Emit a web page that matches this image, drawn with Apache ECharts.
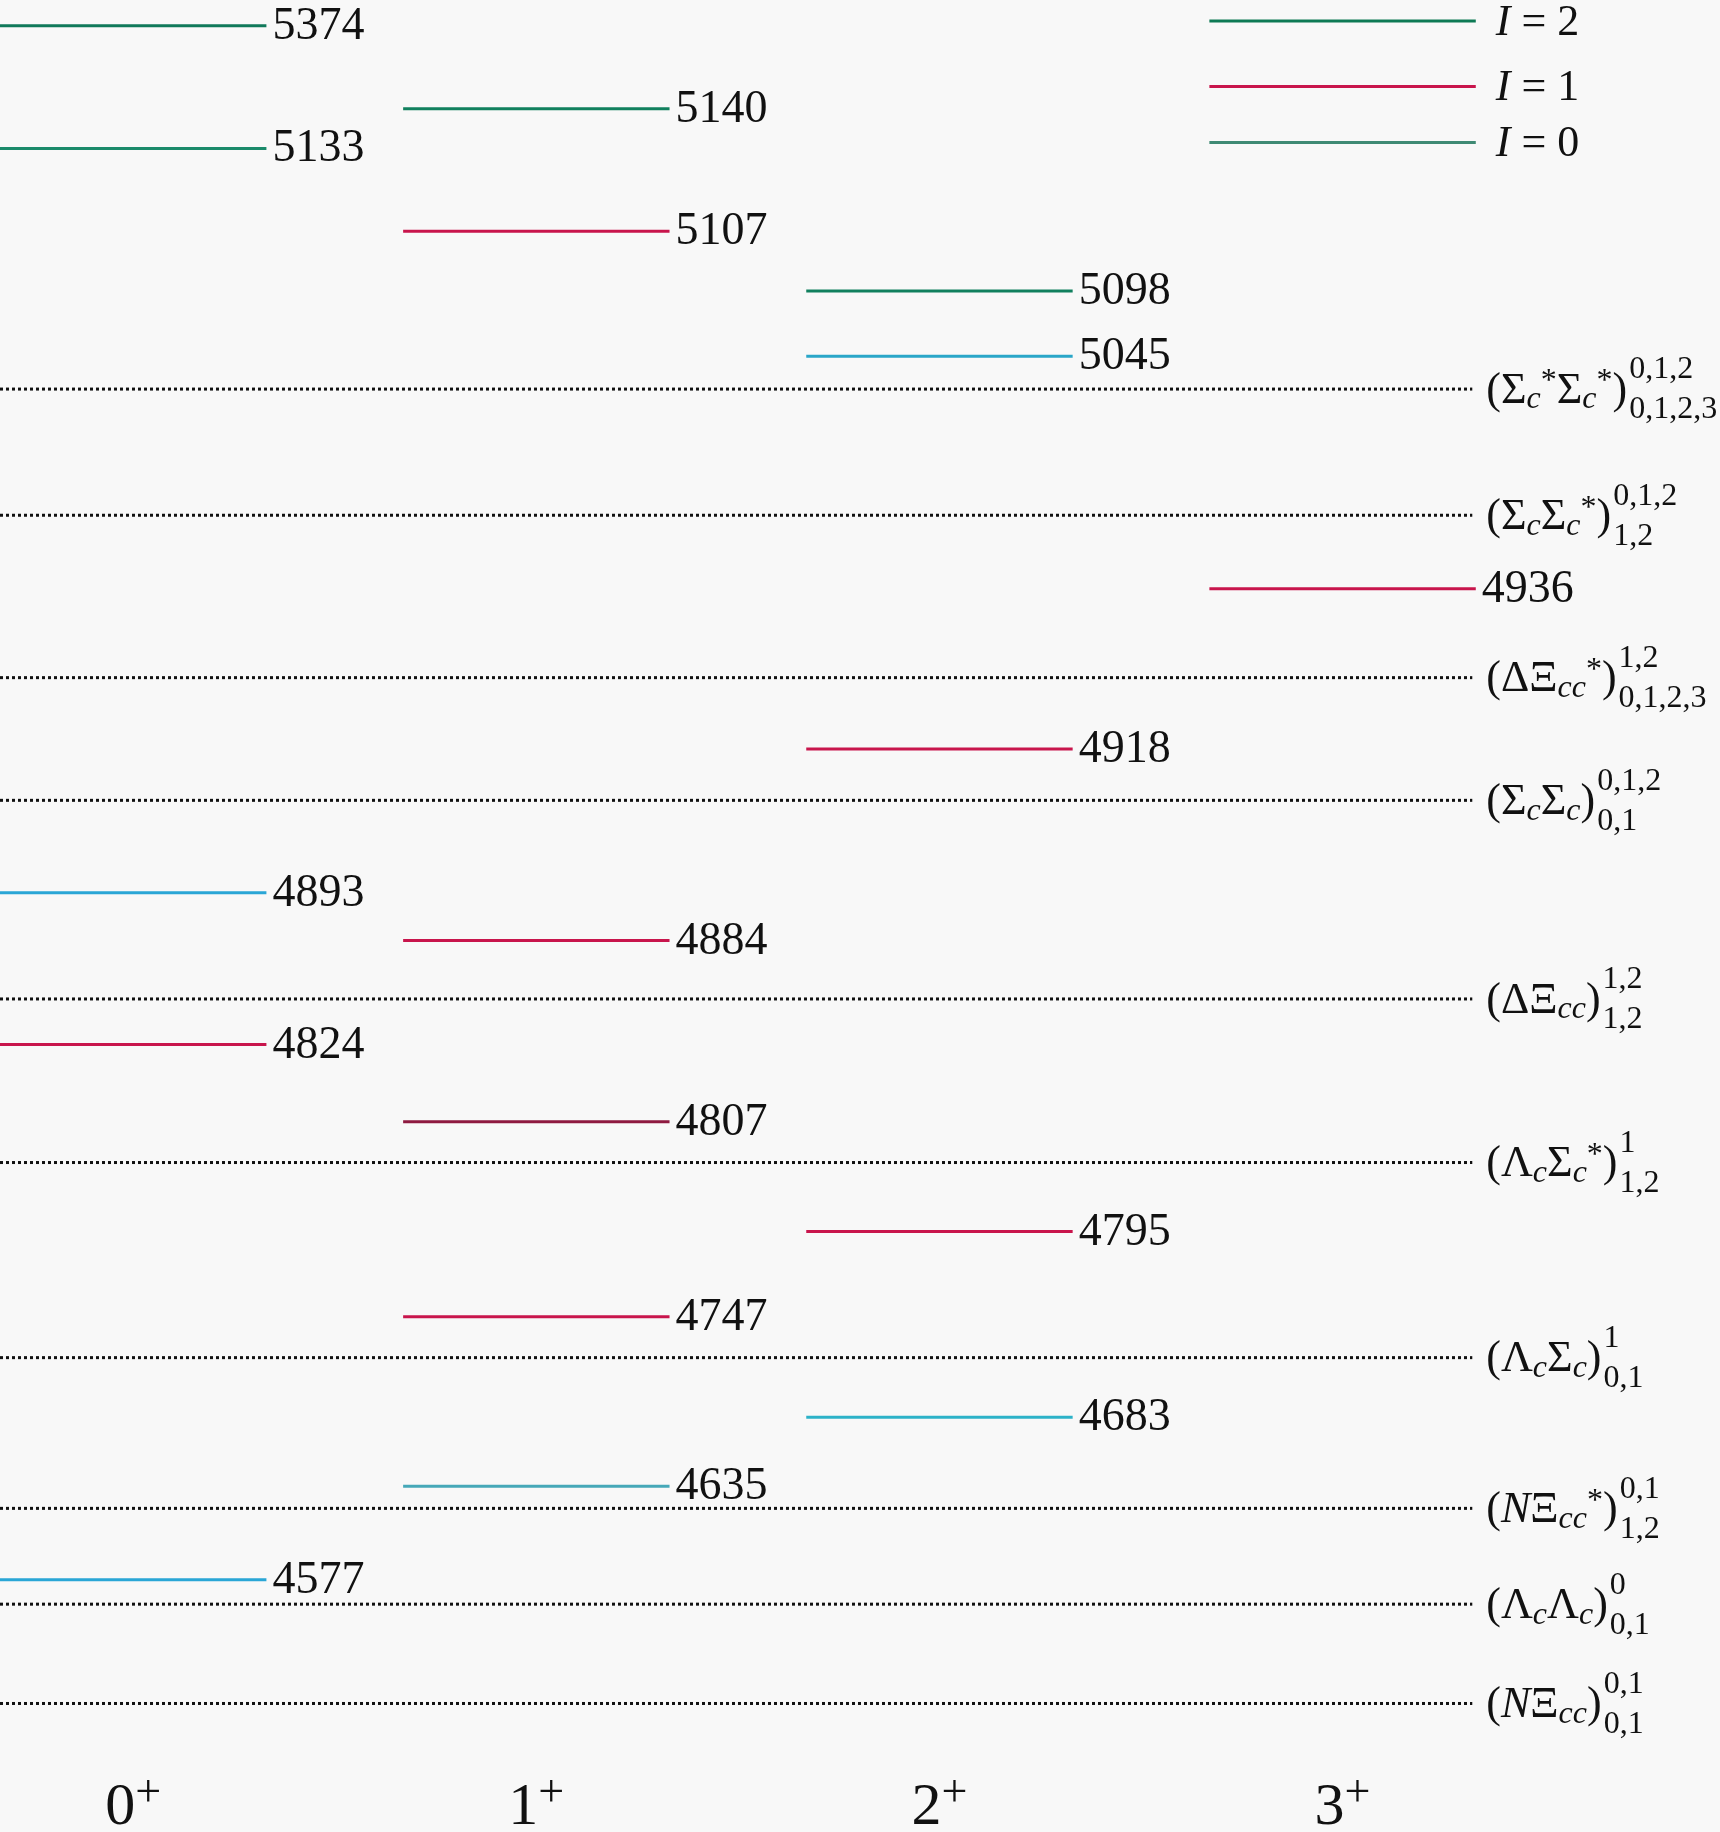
<!DOCTYPE html>
<html><head><meta charset="utf-8">
<script src="https://cdn.jsdelivr.net/npm/echarts@6/dist/echarts.min.js"></script>
<style>html,body{margin:0;padding:0;background:#f8f8f8}#main{width:1720px;height:1832px}</style>
</head><body><div id="main"></div>
<script>
// vertical positions (schematic, not linear in mass)
var spinLabels = ['0', '1', '2', '3'];
var levelCol   = [0, 0, 0, 0, 0, 1, 1, 1, 1, 1, 1, 2, 2, 2, 2, 2, 3];
var levelPos   = [22, 127, 764, 894, 1352, 93, 198, 805, 960, 1127, 1272, 249, 305, 641, 1054, 1213, 504];
var levelMass  = [5374, 5133, 4893, 4824, 4577, 5140, 5107, 4884, 4807, 4747, 4635, 5098, 5045, 4918, 4795, 4683, 4936];
var levelColor = ['#10795a', '#1a8a6a', '#2aa6d6', '#c8154c', '#2aa6d6', '#11805e', '#c8154c', '#c8154c', '#8e1a40', '#c8154c', '#46a8b8', '#11805e', '#2aa6c8', '#c8154c', '#c8154c', '#2cb2c8', '#c8154c'];
var threshPos  = [333, 441, 580, 685, 855, 995, 1162, 1291, 1373, 1458];
var threshName = ['(Σ{sb|c}{sp|*}Σ{sb|c}{sp|*})', '(Σ{sb|c}Σ{sb|c}{sp|*})', '(ΔΞ{sb|cc}{sp|*})', '(Σ{sb|c}Σ{sb|c})', '(ΔΞ{sb|cc})',
                  '(Λ{sb|c}Σ{sb|c}{sp|*})', '(Λ{sb|c}Σ{sb|c})', '({it|N}Ξ{sb|cc}{sp|*})', '(Λ{sb|c}Λ{sb|c})', '({it|N}Ξ{sb|cc})'];
var threshSup  = ['0,1,2', '0,1,2', '1,2', '0,1,2', '1,2', '1', '1', '0,1', '0', '0,1'];
var threshSub  = ['0,1,2,3', '1,2', '0,1,2,3', '0,1', '1,2', '1,2', '0,1', '1,2', '0,1', '0,1'];
var legendIso  = ['2', '1', '0'];
var legendPos  = [18, 74, 122];
var legendColor = ['#0e7a55', '#c8154c', '#3f8a74'];

var LEN = 228 / 345, SERIF = '"Liberation Serif", "DejaVu Serif", serif';
var rich = {
  sb: {fontFamily: SERIF, fontStyle: 'italic', fontSize: 32, verticalAlign: 'bottom', padding: [18, 0, 0, 0]},
  sp: {fontFamily: SERIF, fontSize: 32, verticalAlign: 'top', padding: [0, 0, 16, 0]},
  it: {fontFamily: SERIF, fontStyle: 'italic', fontSize: 44}
};
var ctx = document.createElement('canvas').getContext('2d');
function measure(s){
  var w = 0, re = /\{(\w+)\|([^}]*)\}|([^{]+)/g, m;
  while ((m = re.exec(s))){
    if (m[3]) { ctx.font = '44px ' + SERIF; w += ctx.measureText(m[3]).width; }
    else { var st = rich[m[1]]; ctx.font = (st.fontStyle || '') + ' ' + st.fontSize + 'px ' + SERIF; w += ctx.measureText(m[2]).width; }
  }
  return w;
}

var chart = echarts.init(document.getElementById('main'));
chart.setOption({
  backgroundColor: '#f8f8f8',
  animation: false,
  grid: {left: 0, right: 0, top: 0, bottom: 0},
  xAxis: {type: 'value', min: 0, max: 1472 / 345, show: false},
  yAxis: {type: 'value', min: 0, max: 1568, inverse: true, show: false},
  series: [{
    type: 'custom',
    data: levelPos.map(function(p, i){ return [levelCol[i], p, i]; }),
    renderItem: function(params, api){
      var i = api.value(2), a = api.coord([api.value(0), api.value(1)]), b = api.coord([api.value(0) + LEN, api.value(1)]);
      return {type: 'group', children: [
        {type: 'line', shape: {x1: a[0], y1: a[1], x2: b[0], y2: b[1]}, style: {stroke: levelColor[i], lineWidth: 3}},
        {type: 'text', x: b[0] + 6, y: b[1] + 1, style: {text: String(levelMass[i]), font: '46px ' + SERIF, fill: '#111', verticalAlign: 'middle'}}
      ]};
    }
  }, {
    type: 'custom',
    data: threshPos.map(function(p, i){ return [0, p, i]; }),
    renderItem: function(params, api){
      var i = api.value(2), a = api.coord([0, api.value(1)]), b = api.coord([1260 / 345, api.value(1)]);
      var tx = b[0] + 14, w = measure(threshName[i]);
      return {type: 'group', children: [
        {type: 'line', shape: {x1: a[0], y1: a[1], x2: b[0], y2: b[1]}, style: {stroke: '#111', lineWidth: 3, lineDash: [3, 3]}},
        {type: 'text', x: tx, y: a[1] + 2, style: {text: threshName[i], rich: rich, font: '44px ' + SERIF, fill: '#111', verticalAlign: 'middle'}},
        {type: 'text', x: tx + w + 2, y: a[1] - 19, style: {text: threshSup[i], font: '32px ' + SERIF, fill: '#111', verticalAlign: 'middle'}},
        {type: 'text', x: tx + w + 2, y: a[1] + 21, style: {text: threshSub[i], font: '32px ' + SERIF, fill: '#111', verticalAlign: 'middle'}}
      ]};
    }
  }, {
    type: 'custom',
    data: legendPos.map(function(p, i){ return [3, p, i]; }),
    renderItem: function(params, api){
      var i = api.value(2), a = api.coord([3, api.value(1)]), b = api.coord([3 + LEN, api.value(1)]);
      return {type: 'group', children: [
        {type: 'line', shape: {x1: a[0], y1: a[1], x2: b[0], y2: b[1]}, style: {stroke: legendColor[i], lineWidth: 3}},
        {type: 'text', x: b[0] + 20, y: b[1] + 2, style: {text: '{it|I} = ' + legendIso[i], rich: rich, font: '44px ' + SERIF, fill: '#111', verticalAlign: 'middle'}}
      ]};
    }
  }, {
    type: 'custom',
    data: spinLabels.map(function(s, i){ return [i + LEN / 2, 1548, i]; }),
    renderItem: function(params, api){
      var i = api.value(2), a = api.coord([api.value(0), api.value(1)]);
      return {type: 'text', x: a[0], y: a[1], style: {text: spinLabels[i] + '{jp|+}', rich: {jp: {fontFamily: SERIF, fontSize: 46, verticalAlign: 'top', padding: [0, 0, 30, 0]}},
        font: '60px ' + SERIF, fill: '#111', align: 'center', verticalAlign: 'middle'}};
    }
  }]
});
</script></body></html>
